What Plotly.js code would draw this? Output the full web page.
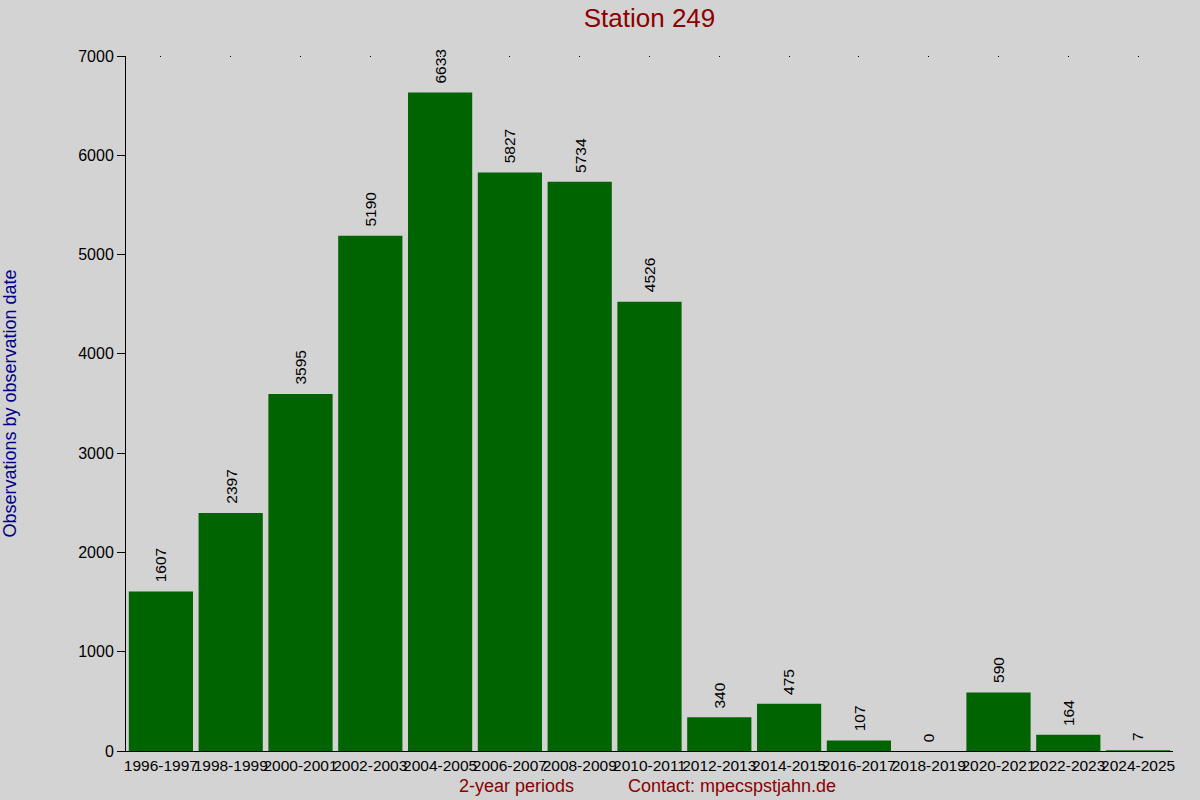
<!DOCTYPE html>
<html>
<head>
<meta charset="utf-8">
<script src="https://cdn.plot.ly/plotly-3.0.1.min.js"></script>
<style>html,body{margin:0;padding:0;background:#d3d3d3;}#chart{width:1200px;height:800px;}</style>
</head>
<body>
<div id="chart"></div>
<script>
const periods = ["1996-1997","1998-1999","2000-2001","2002-2003","2004-2005","2006-2007","2008-2009","2010-2011","2012-2013","2014-2015","2016-2017","2018-2019","2020-2021","2022-2023","2024-2025"];
const counts = [1607,2397,3595,5190,6633,5827,5734,4526,340,475,107,0,590,164,7];
const yTicks = [0,1000,2000,3000,4000,5000,6000,7000];

const font = "Liberation Sans, Arial, sans-serif";

const bars = {
  type: "bar",
  x: periods,
  y: counts,
  marker: {color: "#006400", line: {width: 0}},
  width: 0.92,
  hoverinfo: "x+y",
  showlegend: false
};
const topTicks = {
  type: "scatter", mode: "markers",
  x: periods, y: counts, xaxis: "x2", yaxis: "y",
  marker: {opacity: 0}, hoverinfo: "skip", showlegend: false
};

const annotations = periods.map((p, i) => ({
  x: p, y: counts[i], xref: "x", yref: "y",
  text: String(counts[i]), textangle: -90,
  showarrow: false, xanchor: "center", yanchor: "bottom", yshift: 7,
  font: {family: font, size: 15.5, color: "#000"}
}));
annotations.push({
  x: 516, y: 786, xref: "paper", yref: "paper", text: "2-year periods", showarrow: false,
  font: {family: font, size: 18, color: "#8b0000"}
});
annotations.push({
  x: 732, y: 786, xref: "paper", yref: "paper", text: "Contact: mpecspstjahn.de", showarrow: false,
  font: {family: font, size: 18, color: "#8b0000"}
});
// convert pixel positions of footer annotations into paper coords
const L = 126, R = 27, T = 56, B = 49, W = 1200, H = 800;
annotations.forEach(a => {
  if (a.xref === "paper") {
    a.x = (a.x - L) / (W - L - R);
    a.y = (H - B - a.y) / (H - T - B);
    a.xanchor = "center"; a.yanchor = "middle";
  }
});

const layout = {
  width: W, height: H,
  paper_bgcolor: "#d3d3d3", plot_bgcolor: "#d3d3d3",
  margin: {l: L, r: R, t: T, b: B, pad: 0},
  title: {text: "Station 249", font: {family: font, size: 26, color: "#8b0000"}, x: 0.5, xref: "paper", xanchor: "center", y: 1 - 18 / H, yanchor: "middle"},
  bargap: 0.08,
  xaxis: {
    type: "category", range: [-0.5, 14.5],
    showline: true, linecolor: "#000", linewidth: 1,
    ticks: "", showgrid: false, zeroline: false,
    tickfont: {family: font, size: 15.5, color: "#000"},
    tickangle: 0, automargin: false
  },
  xaxis2: {
    type: "category", range: [-0.5, 14.5], overlaying: "x", side: "top",
    showline: false, showgrid: false, zeroline: false,
    ticks: "inside", ticklen: 1, tickwidth: 1, tickcolor: "#000", showticklabels: false
  },
  yaxis: {
    range: [0, 7000], tickvals: yTicks, ticktext: yTicks.map(String),
    showline: true, linecolor: "#000", linewidth: 1,
    ticks: "outside", ticklen: 8, tickcolor: "#000", tickwidth: 1,
    showgrid: false, zeroline: false,
    tickfont: {family: font, size: 16, color: "#000"},
    title: {text: "Observations by observation date", font: {family: font, size: 18, color: "#00008b"}, standoff: 62},
    automargin: false
  },
  annotations: annotations
};

Plotly.newPlot("chart", [bars, topTicks], layout, {displayModeBar: false, staticPlot: true});
</script>
</body>
</html>
